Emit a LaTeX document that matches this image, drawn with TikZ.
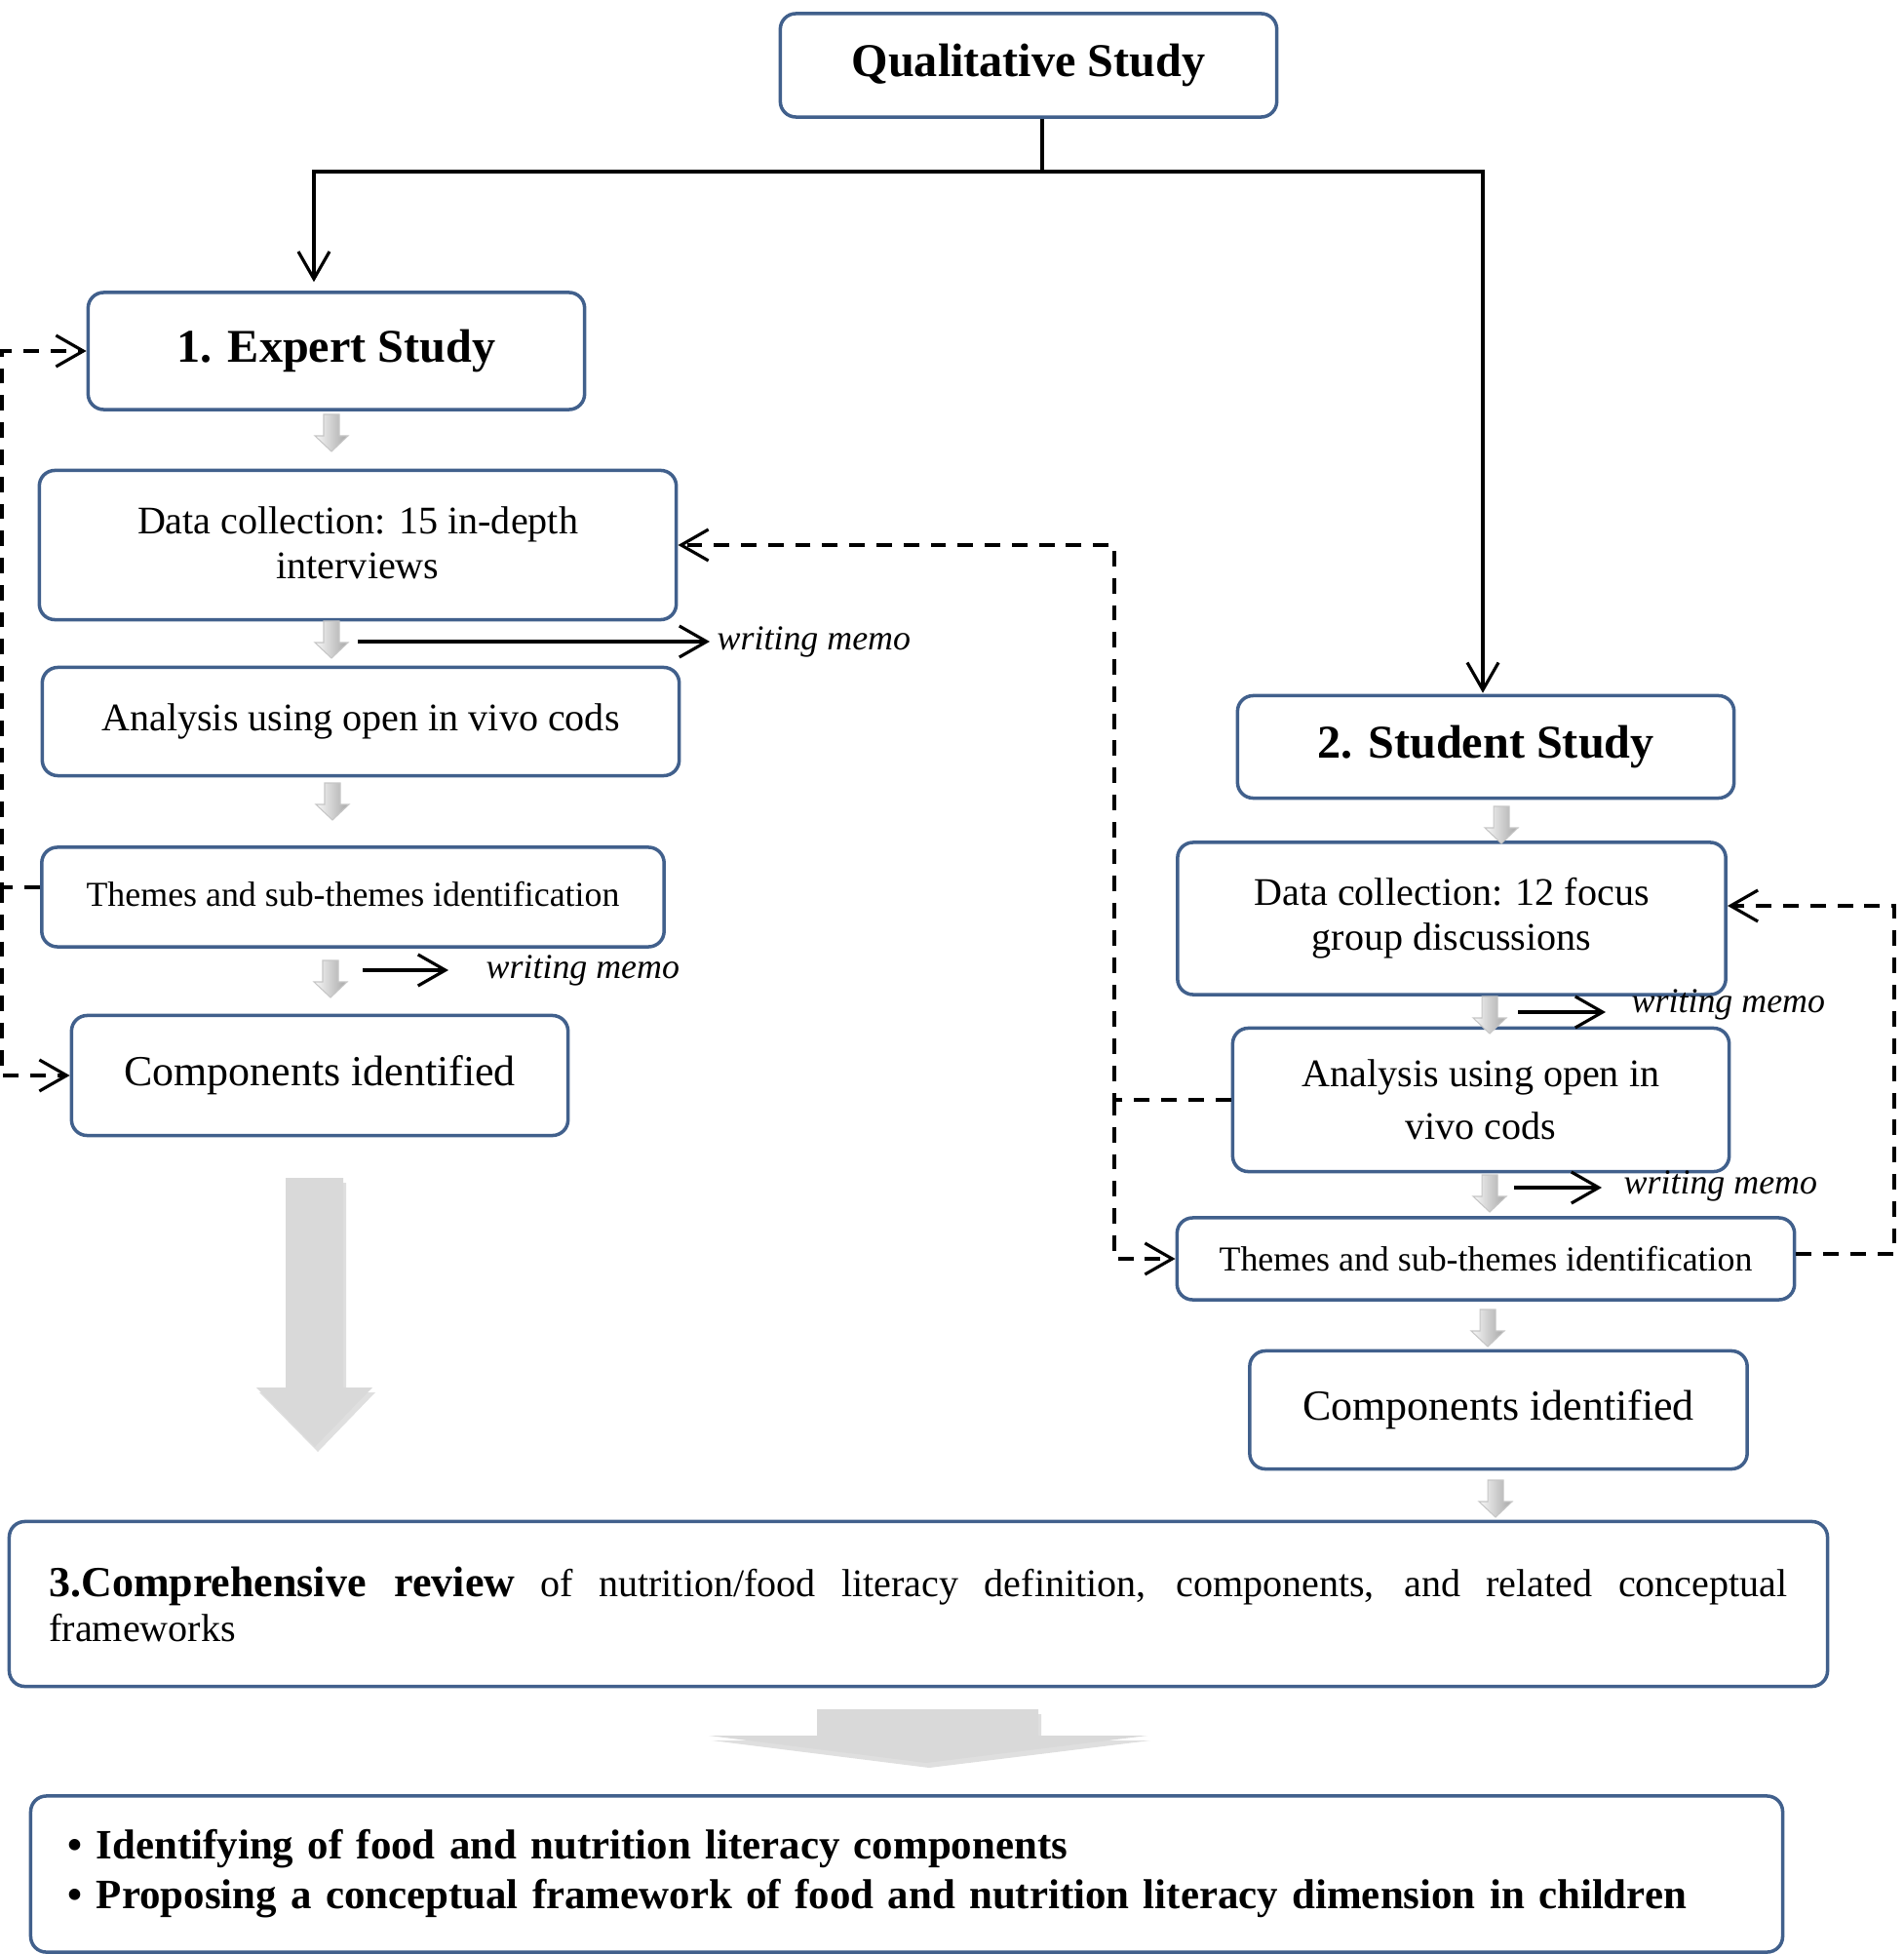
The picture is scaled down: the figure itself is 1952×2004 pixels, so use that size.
\documentclass[tikz,border=0pt]{standalone}
\usepackage{fontspec}
\setmainfont{Liberation Serif}
\usetikzlibrary{arrows.meta,calc,shadows}

\definecolor{boxblue}{RGB}{65,96,140}
\definecolor{arrowgray}{RGB}{217,217,217}

\begin{document}
\begin{tikzpicture}[x=0.01cm, y=-0.01cm,
	box/.style={draw=boxblue, line width=1pt, rounded corners=0.16cm, align=center, inner sep=0pt, font=\fontsize{11.4}{13.1}\selectfont},
	title/.style={box, font=\fontsize{13.7}{16}\selectfont\bfseries},
	themes/.style={box, font=\fontsize{10.2}{12}\selectfont},
	found/.style={box, font=\fontsize{12.5}{15}\selectfont},
	memo/.style={anchor=west, inner xsep=0.07cm, inner ysep=0pt, font=\fontsize{10.2}{12}\selectfont\itshape},
	conn/.style={line width=0.9pt, -{Straight Barb[length=0.28cm, width=0.32cm, line width=0.9pt]}},
	dashconn/.style={conn, dash pattern=on 4.5pt off 3.4pt},
	bigarrow/.style={fill=arrowgray, drop shadow={opacity=0.25, shadow xshift=0.03cm, shadow yshift=-0.05cm}}]
	\useasboundingbox (0,0) rectangle (1952,2004);
	
	% boxes
	\node[title, minimum width=5.09cm, minimum height=1.06cm] (qual) at (1055,67) {Qualitative Study};
	\node[title, minimum width=5.09cm, minimum height=1.20cm] (expert) at (345,360) {1. Expert Study};
	\node[box, minimum width=6.53cm, minimum height=1.53cm] (dataL) at (367,559) {\raisebox{0.05cm}{Data collection: 15 in-depth} \\ \raisebox{0.05cm}{interviews}};
	\node[box, minimum width=6.53cm, minimum height=1.11cm] (anaL) at (370,740) {\raisebox{0.06cm}{Analysis using open in vivo cods}};
	\node[themes, minimum width=6.38cm, minimum height=1.02cm] (themesL) at (362,920) {\raisebox{0.06cm}{Themes and sub-themes identification}};
	\node[found, minimum width=5.09cm, minimum height=1.23cm] (compL) at (328,1103) {\raisebox{-0.05cm}{Components identified}};
	
	\node[title, minimum width=5.09cm, minimum height=1.05cm] (student) at (1524,766) {2. Student Study};
	\node[box, minimum width=5.62cm, minimum height=1.56cm] (dataR) at (1489,942) {Data collection: 12 focus \\ group discussions};
	\node[box, font=\fontsize{11.4}{15.3}\selectfont, minimum width=5.09cm, minimum height=1.47cm] (anaR) at (1519,1128) {Analysis using open in \\ vivo cods};
	\node[themes, minimum width=6.33cm, minimum height=0.84cm] (themesR) at (1524,1291) {Themes and sub-themes identification};
	\node[found, minimum width=5.10cm, minimum height=1.21cm] (compR) at (1537,1446) {\raisebox{-0.06cm}{Components identified}};
	
	\node[box, text width=17.82cm, inner xsep=0.41cm, align=justify, minimum height=1.69cm] (review) at (942,1645)
		{{\fontsize{12.5}{13.1}\selectfont\bfseries 3.Comprehensive review} of nutrition/food literacy definition, components, and related conceptual\linebreak frameworks};
	\node[box, text width=17.20cm, inner xsep=0.38cm, align=left, minimum height=1.60cm, font=\fontsize{12.2}{14.5}\selectfont\bfseries] (outcome) at (930,1922)
		{•~Identifying of food and nutrition literacy components \\ •~Proposing a conceptual framework of food and nutrition literacy dimension in children};
	
	% small grey arrows
	\foreach \x/\y in {340/425, 340/637, 341/803, 339/985, 1540/827, 1528/1022, 1528/1205, 1526/1343, 1534/1518}
		\shade[left color=gray!5, right color=gray!70, draw=gray!45, line width=0.3pt]
			(\x-8,\y) -- (\x+8,\y) -- (\x+8,\y+22) -- (\x+17,\y+22) -- (\x,\y+38) -- (\x-17,\y+22) -- (\x-8,\y+22) -- cycle;
	
	% big grey arrows
	\path[bigarrow] (293,1208) -- (352,1208) -- (352,1423) -- (382,1423) -- (323,1484) -- (263,1423) -- (293,1423) -- cycle;
	\path[bigarrow] (838,1753) -- (1065,1753) -- (1065,1780) -- (1177,1780) -- (950,1808) -- (727,1780) -- (838,1780) -- cycle;
	
	% split from the top box
	\coordinate (split) at (1069,176);
	\draw[conn, shorten >=0.09cm] (qual.south -| split) -- (split) -| ([xshift=-0.23cm]expert.north);
	\draw[conn, shorten >=0.01cm] (split) -| ([xshift=-0.03cm]student.north);
	
	% writing memo
	\node[memo] (memoA) at (728,658) {writing memo};
	\node[memo] (memoB) at (491,995) {writing memo};
	\node[memo] (memoC) at (1666,1030) {writing memo};
	\node[memo] (memoD) at (1658,1216) {writing memo};
	\coordinate (memoAstart) at (367,658);
	\coordinate (memoBstart) at (372,995);
	\coordinate (memoCstart) at (1557,1038);
	\coordinate (memoDstart) at (1553,1218);
	\draw[conn] (memoAstart) -- (memoAstart -| memoA.west);
	\draw[conn, shorten >=0.31cm] (memoBstart) -- (memoBstart -| memoB.west);
	\draw[conn, shorten >=0.19cm] (memoCstart) -- (memoCstart -| memoC.west);
	\draw[conn, shorten >=0.15cm] (memoDstart) -- (memoDstart -| memoD.west);
	
	% feedback loops
	\coordinate (loopL) at (2,910);
	\draw[dashconn] ($(themesL.west)+(0,-10)$) -- (loopL) |- (expert.west);
	\draw[dashconn] (loopL) |- (compL.west);
	
	\coordinate (loopM) at (1143,1128);
	\draw[dashconn] (anaR.west) -- (loopM) |- (dataL.east);
	\draw[dashconn] (loopM) |- (themesR.west);
	
	\coordinate (loopR) at (1943,1286);
	\draw[dashconn] (themesR.east |- loopR) -- (loopR) |- ($(dataR.east)+(0,-13)$);
\end{tikzpicture}
\end{document}
